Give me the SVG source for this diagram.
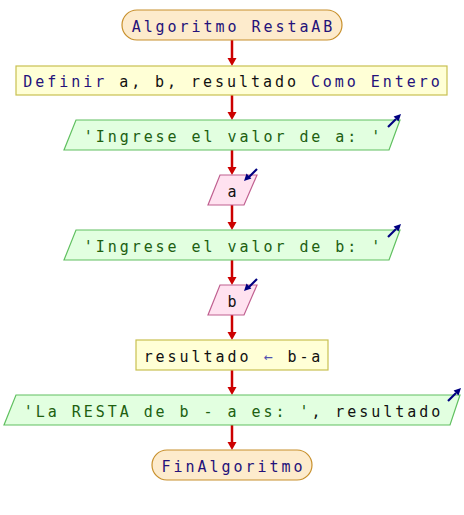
<svg xmlns="http://www.w3.org/2000/svg" width="464" height="515" viewBox="0 0 464 515">
<defs>
<marker id="ah" markerUnits="userSpaceOnUse" markerWidth="9" markerHeight="10" refX="0" refY="4.5" orient="auto" viewBox="0 0 9 10">
<path d="M0,0 L8,4.5 L0,9 z" fill="#cc0000"/>
</marker>
<style>
text{font-family:"DejaVu Sans Mono","Liberation Mono",monospace;font-size:15px;letter-spacing:2.95px;text-anchor:middle}
.term{fill:#fdebcc;stroke:#c8902c;stroke-width:1.2}
.proc{fill:#ffffd6;stroke:#c8c050;stroke-width:1.2}
.out{fill:#e2ffe0;stroke:#60c060;stroke-width:1.2}
.in{fill:#ffe2f0;stroke:#c06090;stroke-width:1.2}
.kw{fill:#24127a}
.var{fill:#111111}
.str{fill:#206010}
.op{fill:#5050b0}
.conn line{stroke:#cc0000;stroke-width:2.5;marker-end:url(#ah)}
.icon line{stroke:#000080;stroke-width:2.2}
.icon polygon{fill:#000080}
</style>
</defs>
<g id="connectors" class="conn">
<line x1="232" y1="40" x2="232" y2="58"/>
<line x1="232" y1="95" x2="232" y2="112"/>
<line x1="232" y1="150" x2="232" y2="167"/>
<line x1="232" y1="205" x2="232" y2="222"/>
<line x1="232" y1="260" x2="232" y2="277"/>
<line x1="232" y1="315" x2="232" y2="332"/>
<line x1="232" y1="370" x2="232" y2="387"/>
<line x1="232" y1="425" x2="232" y2="442"/>
</g>
<g id="start">
<rect class="term" x="122" y="10" width="220" height="30" rx="15" ry="15"/>
<text x="233.5" y="32" class="kw">Algoritmo RestaAB</text>
</g>
<g id="define">
<rect class="proc" x="16" y="66" width="431" height="29"/>
<text x="233" y="87"><tspan class="kw">Definir</tspan><tspan class="var"> a, b, resultado </tspan><tspan class="kw">Como Entero</tspan></text>
</g>
<g id="out1">
<polygon class="out" points="76,120 400,120 389,150 64,150"/>
<text x="233.5" y="142" class="str">'Ingrese el valor de a: '</text>
<g class="icon"><line x1="388" y1="127" x2="396" y2="119"/><polygon points="401,114 398.5,121.4 393.6,116.5"/></g>
</g>
<g id="in1">
<polygon class="in" points="220,175 257,175 244,205 208,205"/>
<text x="233.5" y="197" class="var">a</text>
<g class="icon"><line x1="257" y1="169" x2="249" y2="177"/><polygon points="244,181 251.4,178.5 246.5,173.6"/></g>
</g>
<g id="out2">
<polygon class="out" points="76,230 400,230 389,260 64,260"/>
<text x="233.5" y="252" class="str">'Ingrese el valor de b: '</text>
<g class="icon"><line x1="388" y1="237" x2="396" y2="229"/><polygon points="401,224 398.5,231.4 393.6,226.5"/></g>
</g>
<g id="in2">
<polygon class="in" points="220,285 257,285 244,315 208,315"/>
<text x="233.5" y="307" class="var">b</text>
<g class="icon"><line x1="257" y1="279" x2="249" y2="287"/><polygon points="244,291 251.4,288.5 246.5,283.6"/></g>
</g>
<g id="assign">
<rect class="proc" x="136" y="340" width="192" height="30"/>
<text x="233.5" y="362"><tspan class="var">resultado </tspan><tspan class="op">←</tspan><tspan class="var"> b-a</tspan></text>
</g>
<g id="out3">
<polygon class="out" points="16,395 460,395 450,425 4,425"/>
<text x="233.5" y="417"><tspan class="str">'La RESTA de b - a es: '</tspan><tspan class="var">, resultado</tspan></text>
<g class="icon"><line x1="448" y1="401" x2="456" y2="393"/><polygon points="461,388 458.5,395.4 453.6,390.5"/></g>
</g>
<g id="end">
<rect class="term" x="152" y="450" width="160" height="30" rx="15" ry="15"/>
<text x="233.5" y="472" class="kw">FinAlgoritmo</text>
</g>
</svg>
